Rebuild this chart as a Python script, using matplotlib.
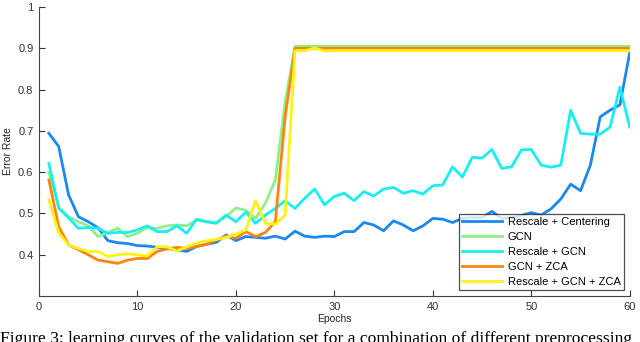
import numpy as np
import matplotlib
matplotlib.use('Agg')
import matplotlib.pyplot as plt

epochs = list(range(1, 61))

# Rescale + Centering
rescale_centering = [0.694, 0.662, 0.545, 0.492, 0.480, 0.465, 0.434, 0.429, 0.427, 0.422,
                     0.421, 0.418, 0.415, 0.412, 0.408, 0.420, 0.425, 0.430, 0.448, 0.434,
                     0.444, 0.442, 0.440, 0.445, 0.438, 0.457, 0.445, 0.442, 0.445, 0.444,
                     0.456, 0.456, 0.478, 0.472, 0.458, 0.482, 0.472, 0.458, 0.470, 0.488,
                     0.486, 0.478, 0.488, 0.490, 0.490, 0.505, 0.488, 0.490, 0.495, 0.502,
                     0.496, 0.511, 0.535, 0.571, 0.555, 0.617, 0.734, 0.750, 0.763, 0.890]

# GCN
gcn = [0.600, 0.515, 0.492, 0.480, 0.470, 0.444, 0.454, 0.464, 0.444, 0.452,
       0.466, 0.464, 0.470, 0.472, 0.470, 0.484, 0.480, 0.478, 0.492, 0.513,
       0.508, 0.488, 0.525, 0.581, 0.770, 0.905, 0.905, 0.905, 0.905, 0.905,
       0.905, 0.905, 0.905, 0.905, 0.905, 0.905, 0.905, 0.905, 0.905, 0.905,
       0.905, 0.905, 0.905, 0.905, 0.905, 0.905, 0.905, 0.905, 0.905, 0.905,
       0.905, 0.905, 0.905, 0.905, 0.905, 0.905, 0.905, 0.905, 0.905, 0.905]

# Rescale + GCN
rescale_gcn = [0.621, 0.513, 0.489, 0.464, 0.466, 0.464, 0.452, 0.454, 0.454, 0.460,
               0.470, 0.456, 0.456, 0.470, 0.452, 0.486, 0.480, 0.476, 0.496, 0.480,
               0.503, 0.476, 0.496, 0.512, 0.531, 0.512, 0.537, 0.559, 0.521, 0.541,
               0.549, 0.531, 0.553, 0.542, 0.559, 0.563, 0.549, 0.555, 0.547, 0.567,
               0.569, 0.613, 0.588, 0.636, 0.634, 0.655, 0.609, 0.613, 0.654, 0.655,
               0.617, 0.612, 0.617, 0.750, 0.694, 0.692, 0.692, 0.709, 0.806, 0.709]

# GCN + ZCA
gcn_zca = [0.581, 0.468, 0.424, 0.412, 0.400, 0.387, 0.383, 0.379, 0.387, 0.391,
           0.391, 0.408, 0.414, 0.418, 0.415, 0.420, 0.425, 0.436, 0.445, 0.440,
           0.456, 0.444, 0.454, 0.480, 0.735, 0.900, 0.900, 0.900, 0.900, 0.900,
           0.900, 0.900, 0.900, 0.900, 0.900, 0.900, 0.900, 0.900, 0.900, 0.900,
           0.900, 0.900, 0.900, 0.900, 0.900, 0.900, 0.900, 0.900, 0.900, 0.900,
           0.900, 0.900, 0.900, 0.900, 0.900, 0.900, 0.900, 0.900, 0.900, 0.900]

# Rescale + GCN + ZCA
rescale_gcn_zca = [0.533, 0.452, 0.424, 0.415, 0.408, 0.408, 0.396, 0.400, 0.402, 0.400,
                   0.397, 0.419, 0.419, 0.409, 0.419, 0.428, 0.434, 0.437, 0.442, 0.450,
                   0.460, 0.531, 0.476, 0.474, 0.496, 0.894, 0.894, 0.901, 0.893, 0.894,
                   0.894, 0.894, 0.894, 0.894, 0.894, 0.894, 0.894, 0.894, 0.894, 0.894,
                   0.894, 0.894, 0.894, 0.894, 0.894, 0.894, 0.894, 0.894, 0.894, 0.894,
                   0.894, 0.894, 0.894, 0.894, 0.894, 0.894, 0.894, 0.894, 0.894, 0.894]

labels = ['Rescale + Centering', 'GCN', 'Rescale + GCN', 'GCN + ZCA', 'Rescale + GCN + ZCA']
colors = ['#1a88f0', '#8ef08a', '#18eef0', '#ff8410', '#fbf21a']

plt.rcParams['font.family'] = ['Liberation Sans', 'DejaVu Sans']

fig = plt.figure(figsize=(6.4, 3.42), dpi=100)
ax = fig.add_axes([0.061, 0.1345, 0.923, 0.845])

series = [rescale_centering, gcn, rescale_gcn, gcn_zca, rescale_gcn_zca]
for s, lab, c in zip(series, labels, colors):
    ax.plot(epochs, s, color=c, lw=2.0, label=lab)

ax.set_xlim(0, 60)
ax.set_ylim(0.3, 1.0)
ax.set_xticks([0, 10, 20, 30, 40, 50, 60])
ax.set_yticks([0.4, 0.5, 0.6, 0.7, 0.8, 0.9, 1.0])
ax.set_yticklabels(['0.4', '0.5', '0.6', '0.7', '0.8', '0.9', '1'])
ax.tick_params(direction='in', length=4, width=0.8, labelsize=8, colors='#333333', pad=4)
for sp in ['top', 'right']:
    ax.spines[sp].set_visible(False)
for sp in ['left', 'bottom']:
    ax.spines[sp].set_color('#444444')
    ax.spines[sp].set_linewidth(0.8)

ax.set_xlabel('Epochs', fontsize=7.5, color='#222222', labelpad=2)
ax.set_ylabel('Error Rate', fontsize=7.5, color='#222222', labelpad=4)

leg = ax.legend(loc='lower right', fontsize=8, frameon=True, fancybox=False,
                handlelength=3.6, borderpad=0.3, labelspacing=0.45, handletextpad=0.5,
                bbox_to_anchor=(0.9995, 0.0))
leg.get_frame().set_edgecolor('#222222')
leg.get_frame().set_linewidth(0.9)

fig.text(0.0, -1.0 / 342, 'Figure 3: learning curves of the validation set for a combination of different preprocessing',
         fontsize=12.6, family='Liberation Serif', va='baseline', ha='left')

fig.savefig('out.png', dpi=100)
